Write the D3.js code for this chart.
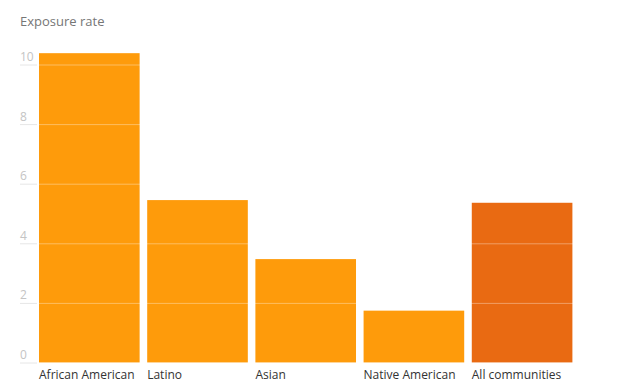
<!DOCTYPE html>
<html><head><meta charset="utf-8">
<script src="https://cdn.jsdelivr.net/npm/d3@7"></script>
<style>
body{margin:0;background:#fff;}
svg{display:block;font-family:"Open Sans",sans-serif;}
</style></head>
<body><svg id="chart" width="630" height="390"></svg>
<script>
const categories = ["African American","Latino","Asian","Native American","All communities"];
const values = [10.38, 5.45, 3.47, 1.74, 5.36];
const highlight = [false,false,false,false,true];
const yTicks = [0,2,4,6,8,10];
const yTitle = "Exposure rate";

const svg = d3.select("#chart");
const x = d3.scaleBand().domain(categories).range([39,572.4]).paddingInner(0.07).paddingOuter(0);
const y = d3.scaleLinear().domain([0,10]).range([362.5,64.5]);

svg.append("text").attr("x",20).attr("y",26).attr("font-size",13).attr("fill","#767676").text(yTitle);

svg.append("g").selectAll("rect").data(categories).join("rect")
  .attr("x",d=>x(d)).attr("width",x.bandwidth())
  .attr("y",(d,i)=>y(values[i])).attr("height",(d,i)=>y(0)-y(values[i]))
  .attr("fill",(d,i)=>highlight[i]?"#e96a12":"#fe9b0b");

const yAxis = d3.axisLeft(y).tickValues(yTicks).tickSize(0).tickFormat(d3.format("d"));
const g = svg.append("g").call(yAxis);
g.select(".domain").remove();
g.selectAll(".tick line").attr("x1",20).attr("x2",37).attr("stroke","#e6e6e6").attr("stroke-width",1);
g.selectAll(".tick").append("line").attr("x1",37).attr("x2",600).attr("stroke","#ffffff").attr("stroke-opacity",0.35).attr("stroke-width",1);
g.selectAll(".tick text").attr("x",20).attr("dy",-4).attr("text-anchor","start").attr("font-size",12).attr("fill","#c4c4c4").attr("font-family","Open Sans, sans-serif");

svg.append("g").selectAll("text").data(categories).join("text")
  .attr("x",d=>x(d)).attr("y",379).attr("font-size",12).attr("fill","#333").text(d=>d);
</script></body></html>
